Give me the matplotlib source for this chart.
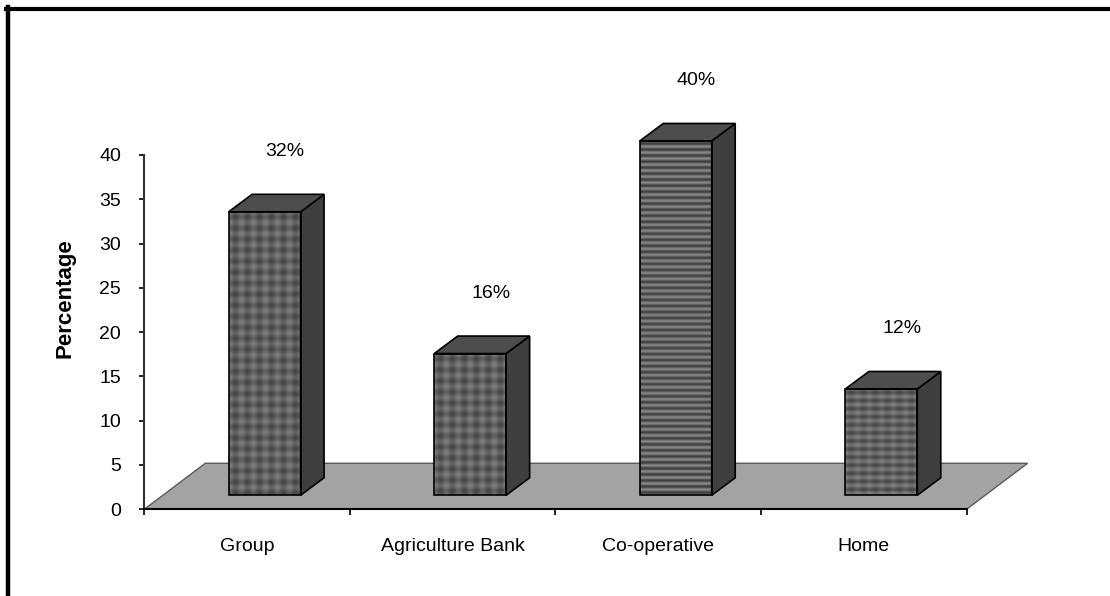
import numpy as np
import matplotlib
matplotlib.use('Agg')
import matplotlib.pyplot as plt
from matplotlib.patches import Polygon, Rectangle
from matplotlib.lines import Line2D

sources = ['Group', 'Agriculture Bank', 'Co-operative', 'Home']
percent = [32, 16, 40, 12]
fills = ['check', 'check', 'hstripe', 'hcheck']
yticks = [0, 5, 10, 15, 20, 25, 30, 35, 40]

plt.rcParams['font.family'] = ['Liberation Sans', 'DejaVu Sans']
plt.rcParams['font.size'] = 14


def texture(kind, w, h):
    '''grey fill pattern for the front face of a bar, w x h pixels'''
    yy, xx = np.mgrid[0:h, 0:w]
    if kind == 'check':
        v = 0.38 + 0.055 * np.cos(2 * np.pi * xx / 12) + 0.055 * np.cos(2 * np.pi * yy / 11)
    elif kind == 'hstripe':
        v = 0.39 + 0.14 * np.cos(2 * np.pi * yy / 6)
    else:
        v = 0.39 + 0.08 * np.cos(2 * np.pi * yy / 8) + 0.035 * np.cos(2 * np.pi * xx / 12)
    return v


fig = plt.figure(figsize=(11.1, 5.96), dpi=100)
ax = fig.add_axes([0.13, 0.1455, 0.7408, 0.5945])
ax.set_xlim(0, len(sources))
ax.set_ylim(0, 40)

# pixel -> data unit conversion for the fake 3d depth
sx = ax.transData.transform((1, 0))[0] - ax.transData.transform((0, 0))[0]
sy = ax.transData.transform((0, 1))[1] - ax.transData.transform((0, 0))[1]


def px(dx, dy):
    return dx / sx, dy / sy


floor_dx, floor_dy = px(61, 46)
front_dx, front_dy = px(17.5, 14)
depth_dx, depth_dy = px(23.5, 17.5)
half_w = 0.175

n = len(sources)
floor = Polygon([(0, 0), (n, 0), (n + floor_dx, floor_dy), (floor_dx, floor_dy)],
                closed=True, fc='#a3a3a3', ec='#5a5a5a', lw=1, zorder=1, clip_on=False)
ax.add_patch(floor)

for i, (v, kind) in enumerate(zip(percent, fills)):
    xc = i + 0.5
    x0 = xc - half_w + front_dx
    x1 = xc + half_w + front_dx
    y0 = front_dy
    y1 = v + front_dy

    w_px = int(round((x1 - x0) * sx))
    h_px = int(round(v * sy))
    img = ax.imshow(texture(kind, w_px, h_px), extent=(x0, x1, y0, y1), aspect='auto',
                    cmap='gray', vmin=0, vmax=1, interpolation='bilinear', zorder=3)
    img.set_clip_on(False)
    ax.add_patch(Rectangle((x0, y0), x1 - x0, y1 - y0, fill=False, ec='black', lw=1.2,
                           zorder=4, clip_on=False))

    side = Polygon([(x1, y0), (x1, y1), (x1 + depth_dx, y1 + depth_dy), (x1 + depth_dx, y0 + depth_dy)],
                   closed=True, fc='#3f3f3f', ec='black', lw=1.2, zorder=3, clip_on=False)
    top = Polygon([(x0, y1), (x1, y1), (x1 + depth_dx, y1 + depth_dy), (x0 + depth_dx, y1 + depth_dy)],
                  closed=True, fc='#4d4d4d', ec='black', lw=1.2, zorder=3, clip_on=False)
    ax.add_patch(side)
    ax.add_patch(top)

    ax.annotate('{}%'.format(v), (xc, v), xytext=(38, 74), textcoords='offset pixels',
                ha='center', va='center', fontsize=14, annotation_clip=False)

ax.set_xlim(0, n)
ax.set_ylim(0, 40)

ax.set_yticks(yticks)
ax.tick_params(axis='y', direction='out', length=3.6, width=1.2, pad=13, labelsize=14)
ax.set_xticks(range(n + 1))
ax.set_xticklabels([])
ax.set_xticks([i + 0.5 for i in range(n)], minor=True)
ax.set_xticklabels(sources, minor=True)
ax.tick_params(axis='x', which='major', direction='out', length=4.3, width=1.2)
ax.tick_params(axis='x', which='minor', length=0, pad=21, labelsize=14)

for s in ['top', 'right']:
    ax.spines[s].set_visible(False)
ax.spines['left'].set_bounds(0, 40)
ax.spines['left'].set_color('#333333')
ax.spines['left'].set_linewidth(1.5)
ax.spines['bottom'].set_color('black')
ax.spines['bottom'].set_linewidth(1.5)
ax.patch.set_alpha(0)

fig.text(65 / 1110, 1 - 298 / 596, 'Percentage', rotation=90, ha='center', va='center',
         fontsize=16, fontweight='bold')

# heavy black frame along top and left edge
fig.add_artist(Line2D([6 / 1110, 1], [1 - 8.7 / 596] * 2, transform=fig.transFigure,
                      color='black', lw=3))
fig.add_artist(Line2D([8 / 1110] * 2, [1 - 7 / 596, 0], transform=fig.transFigure,
                      color='black', lw=3.2))

fig.savefig('out.png', dpi=100)
